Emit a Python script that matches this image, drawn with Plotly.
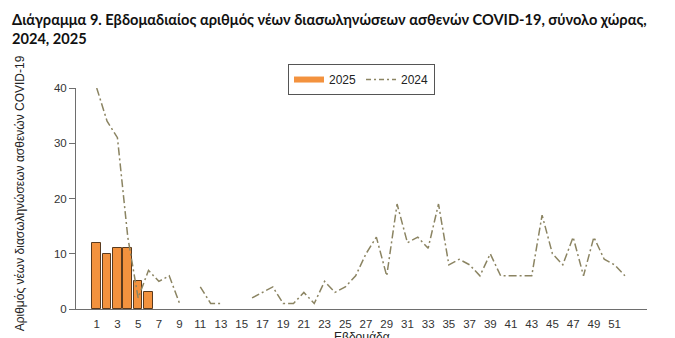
import plotly.graph_objects as go

# Weekly new COVID-19 intubations, whole country
weeks_2025 = [1, 2, 3, 4, 5, 6]
cases_2025 = [12, 10, 11, 11, 5, 3]

weeks_2024 = list(range(1, 53))
cases_2024 = [40, 34, 31, 13, 2, 7, 5, 6, 1, None,
              4, 1, 1, None, None, 2, 3, 4, 1, 1,
              3, 1, 5, 3, 4, 6, 10, 13, 6, 19,
              12, 13, 11, 19, 8, 9, 8, 6, 10, 6,
              6, 6, 6, 17, 10, 8, 13, 6, 13, 9,
              8, 6]

x_ticks = list(range(1, 52, 2))
y_ticks = [0, 10, 20, 30, 40]

title_text = ("Διάγραμμα 9. Εβδομαδιαίος αριθμός νέων διασωληνώσεων ασθενών COVID-19, σύνολο χώρας,"
              "<br>2024, 2025")
y_title = "Αριθμός νέων διασωληνώσεων ασθενών COVID-19"
x_title = "Εβδομάδα"

ORANGE = "#F3923E"
OLIVE = "#8B8462"
AXIS = "#6E6E6E"
SANS = "Liberation Sans, Arial, sans-serif"
TICKFONT = dict(family=SANS, size=11.5, color="#333333")

# plot-area geometry in pixels (used to place the outside texts)
L, R, T, B = 76, 28, 88, 28.7
W, H = 675, 338
PW, PH = W - L - R, H - T - B


def px_x(px):
    return (px - L) / PW


def px_y(py):
    return (H - B - py) / PH


fig = go.Figure()

fig.add_trace(go.Bar(
    x=weeks_2025, y=cases_2025, width=0.84,
    marker=dict(color=ORANGE, line=dict(color="#5A3A1E", width=1)),
    showlegend=False, name="2025",
))

fig.add_trace(go.Scatter(
    x=weeks_2024, y=cases_2024, mode="lines",
    line=dict(color=OLIVE, width=1.5, dash="8px,3px,2px,3px"),
    connectgaps=False, name="2024", showlegend=False,
))

# legend entries: thick line for 2025, dash-dot for 2024
fig.add_trace(go.Scatter(x=[None], y=[None], mode="lines", name="2025",
                         line=dict(color=ORANGE, width=6)))
fig.add_trace(go.Scatter(x=[None], y=[None], mode="lines", name="2024",
                         line=dict(color=OLIVE, width=1.5, dash="5px,3px,2px,3px")))

fig.update_layout(
    width=W, height=H,
    margin=dict(l=L, r=R, t=T, b=B, autoexpand=False),
    paper_bgcolor="white", plot_bgcolor="white",
    bargap=0,
    legend=dict(orientation="h", x=0.5, xanchor="center", y=px_y(64), yanchor="top",
                bordercolor="#555555", borderwidth=1, bgcolor="white",
                font=dict(family=SANS, size=12, color="#222222"),
                itemwidth=30, tracegroupgap=0),
    xaxis=dict(range=[-1, 54.13], tickvals=x_ticks, ticktext=[str(v) for v in x_ticks],
               showgrid=False, zeroline=False, showline=True, linecolor=AXIS, linewidth=1,
               ticks="", tickfont=TICKFONT, ticklabelstandoff=4, automargin=False),
    yaxis=dict(range=[0, 40], tickvals=y_ticks, showgrid=False, zeroline=False,
               showline=True, linecolor=AXIS, linewidth=1, ticks="outside", ticklen=6,
               tickcolor=AXIS, tickfont=TICKFONT, automargin=False),
    annotations=[
        dict(text=title_text, xref="paper", yref="paper", x=px_x(10), y=px_y(9),
             xanchor="left", yanchor="top", align="left", showarrow=False,
             font=dict(family="Lato, Open Sans, sans-serif", size=14.6, color="#111111",
                       weight="bold")),
        dict(text=y_title, textangle=-90, xref="paper", yref="paper",
             x=px_x(20), y=px_y(193.5), xanchor="center", yanchor="middle",
             showarrow=False, font=dict(family=SANS, size=12, color="#222222")),
        dict(text=x_title, xref="paper", yref="paper", x=0.5, y=px_y(328),
             xanchor="center", yanchor="top", showarrow=False,
             font=dict(family=SANS, size=12, color="#222222")),
    ],
)

fig.write_html("out.html")
